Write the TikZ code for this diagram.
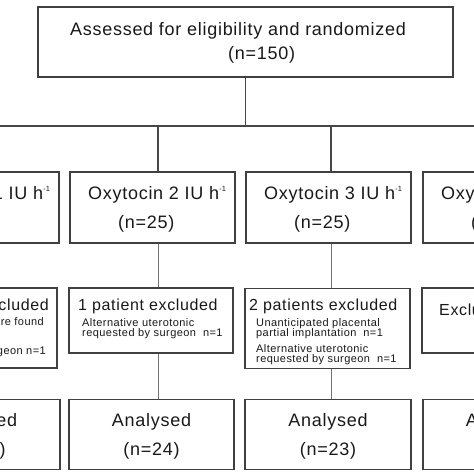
\documentclass[tikz,border=0pt]{standalone}
\usepackage{fontspec}
\setmainfont{Liberation Sans}[LetterSpace=4]
\newcommand{\fT}{\fontsize{18}{18}\selectfont}
\newcommand{\fH}{\fontsize{16}{16}\selectfont}
\newcommand{\fS}{\fontsize{11}{11}\selectfont}
\newcommand{\supmo}{\raisebox{7.5pt}{\fontsize{7.5}{7.5}\selectfont -1}}
\begin{document}
\begin{tikzpicture}[x=1pt,y=-1pt,
  box/.style={draw=black!75, line width=1.3pt, inner sep=0pt},
  txt/.style={inner sep=0pt, anchor=base west, text=black!90},
  txte/.style={inner sep=0pt, anchor=base east, text=black!90},
  txtc/.style={inner sep=0pt, anchor=base, text=black!90},
  small/.style={font=\fS, text height=7.4pt, text depth=1.6pt},
  link/.style={draw=black!72, line width=1.1pt},
  sublink/.style={draw=black!55, line width=1pt}]
\fill[white] (0,0) rectangle (474,474);
\useasboundingbox (0,0) rectangle (474,474);
\clip (0,0) rectangle (474,474);
% boxes
\node[box, minimum width=415pt, minimum height=70pt] (top) at (245.5,42) {};
\node[box, minimum width=165pt, minimum height=71pt] (b1) at (-23.5,207.5) {};
\node[box, minimum width=165pt, minimum height=71pt] (b2) at (152.5,207.5) {};
\node[box, minimum width=165pt, minimum height=71pt] (b3) at (328.5,207.5) {};
\node[box, minimum width=165pt, minimum height=71pt] (b4) at (505.5,207.5) {};
\node[box, minimum width=165pt, minimum height=80pt] (e1) at (-25.5,328) {};
\node[box, minimum width=164pt, minimum height=65pt] (e2) at (151,320.5) {};
\node[box, minimum width=165pt, minimum height=80pt] (e3) at (327.5,328.5) {};
\node[box, minimum width=165pt, minimum height=65pt] (e4) at (504.5,320.5) {};
\node[box, minimum width=165pt, minimum height=70pt] (a1) at (-22.5,434.5) {};
\node[box, minimum width=165pt, minimum height=70pt] (a2) at (151.5,434.5) {};
\node[box, minimum width=166pt, minimum height=70pt] (a3) at (328,434.5) {};
\node[box, minimum width=165pt, minimum height=70pt] (a4) at (505.5,434.5) {};
% connectors
\coordinate (jt) at (245.5,126);
\coordinate (j1) at (-18,126);
\coordinate (j2) at (158,126);
\coordinate (j3) at (331,126);
\coordinate (j4) at (508,126);
\draw[link] (top.south) -- (jt);
\draw[link] (j1) -- (j4);
\foreach \k in {1,2,3,4}{
  \draw[link] (j\k) -- (j\k |- b\k.north);
  \draw[sublink] (b\k.south -| j\k) -- (e\k.north -| j\k);
  \draw[sublink] (e\k.south -| j\k) -- (a\k.north -| j\k);
}
% top texts
\node[txt, font=\fT] (t1) at (70,35) {Assessed for eligibility and randomized};
\node[txt, font=\fT] (t2) at (228,59) {(n=150)};
% row 1 texts
\node[txt, font=\fT] (r1a) at (-88,199) {Oxytocin 1 IU h\supmo};
\node[txt, font=\fT] (r1b) at (-58,228) {(n=25)};
\node[txt, font=\fT] (r2a) at (88,199) {Oxytocin 2 IU h\supmo};
\node[txt, font=\fT] (r2b) at (118,228) {(n=25)};
\node[txt, font=\fT] (r3a) at (264,199) {Oxytocin 3 IU h\supmo};
\node[txt, font=\fT] (r3b) at (294,228) {(n=25)};
\node[txt, font=\fT] (r4a) at (441,199) {Oxytocin 4 IU h\supmo};
\node[txt, font=\fT] (r4b) at (471,228) {(n=25)};
% exclusion texts
\node[txte, font=\fH] (x1h) at (49,310.5) {2 patients excluded};
\node[txte, small] (x1a) at (44,325.7) {Placenta accreta were found};
\node[txt, small] (x1b) at (-97,336) {n=1};
\node[txte, small] (x1c) at (46,354) {requested by surgeon n=1};
\node[txt, font=\fH] (x2h) at (78,310) {1 patient excluded};
\node[txt, small] (x2a) at (82,326) {Alternative uterotonic};
\node[txt, small] (x2b) at (82,336) {requested by surgeon\ \ n=1};
\node[txt, font=\fH] (x3h) at (249,310.5) {2 patients excluded};
\node[txt, small] (x3a) at (256,326.7) {Unanticipated placental};
\node[txt, small] (x3b) at (256,336.7) {partial implantation\ \ n=1};
\node[txt, small] (x3c) at (256,352.3) {Alternative uterotonic};
\node[txt, small] (x3d) at (256,362.8) {requested by surgeon\ \ n=1};
\node[txt, font=\fH] (x4h) at (439,315) {Excluded (n=0)};
% analysed texts
\node[txtc, font=\fT] (n1a) at (-22.5,426.7) {Analysed};
\node[txtc, font=\fT] (n1b) at (-22.5,455) {(n=23)};
\node[txtc, font=\fT] (n2a) at (151.5,426.7) {Analysed};
\node[txtc, font=\fT] (n2b) at (151.5,455) {(n=24)};
\node[txtc, font=\fT] (n3a) at (328,426.7) {Analysed};
\node[txtc, font=\fT] (n3b) at (328,455) {(n=23)};
\node[txtc, font=\fT] (n4a) at (505.5,426.7) {Analysed};
\node[txtc, font=\fT] (n4b) at (505.5,455) {(n=25)};
\end{tikzpicture}
\end{document}
